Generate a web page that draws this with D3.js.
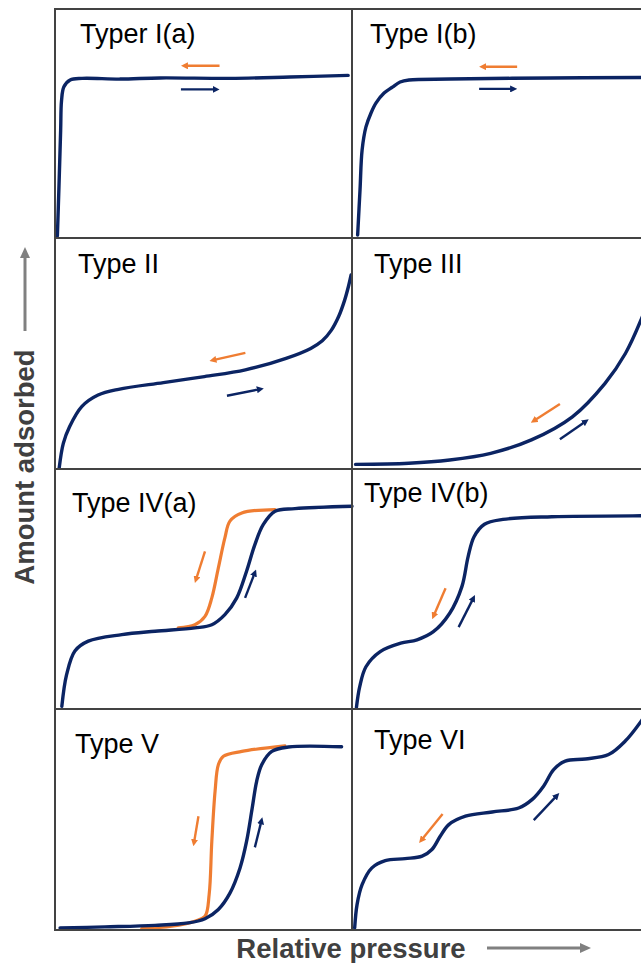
<!DOCTYPE html>
<html>
<head>
<meta charset="utf-8">
<script src="https://cdn.jsdelivr.net/npm/d3@7"></script>
<style>
  body { margin: 0; background: #fff; }
  text { font-family: "Liberation Sans", Arial, sans-serif; }
</style>
</head>
<body>
<svg></svg>
<script>
// isotherm types, reading order (left to right, top to bottom)
var typeNames = ["Typer I(a)", "Type I(b)", "Type II", "Type III",
                 "Type IV(a)", "Type IV(b)", "Type V", "Type VI"];

// adsorption branches: [relative pressure, amount adsorbed], both 0..1 inside a panel
var typeIa = [[0.008,0.009],[0.013,0.21],[0.019,0.47],[0.022,0.60],[0.030,0.66],[0.051,0.69],
  [0.091,0.697],[0.219,0.694],[0.354,0.699],[0.589,0.697],[0.791,0.703],[0.987,0.710]];
var typeIb = [[0.019,0.013],[0.027,0.21],[0.034,0.384],[0.047,0.485],[0.064,0.546],[0.081,0.59],
  [0.108,0.633],[0.136,0.659],[0.162,0.681],[0.192,0.690],[0.33,0.694],[0.667,0.699],[0.973,0.701],[1.0,0.702]];
var typeII = [[0.014,0.003],[0.028,0.111],[0.049,0.183],[0.090,0.270],[0.145,0.320],[0.214,0.345],
  [0.365,0.374],[0.503,0.400],[0.641,0.429],[0.778,0.479],[0.861,0.522],[0.900,0.555],
  [0.930,0.600],[0.955,0.660],[0.975,0.730],[0.988,0.790],[0.997,0.840]];
var typeIII = [[0.012,0.020],[0.191,0.025],[0.329,0.039],[0.467,0.068],[0.604,0.126],[0.742,0.226],
  [0.852,0.371],[0.921,0.501],[0.973,0.645],[1.0,0.74]];
var typeIVa = [[0.023,0.011],[0.039,0.143],[0.067,0.242],[0.112,0.283],[0.225,0.310],[0.337,0.324],
  [0.471,0.338],[0.528,0.351],[0.572,0.393],[0.612,0.463],[0.645,0.574],[0.673,0.685],
  [0.701,0.768],[0.741,0.824],[0.808,0.835],[1.0,0.845]];
var typeIVb = [[0.015,0.007],[0.026,0.093],[0.047,0.176],[0.095,0.239],[0.164,0.274],[0.219,0.288],
  [0.274,0.322],[0.329,0.399],[0.370,0.510],[0.391,0.635],[0.411,0.718],[0.446,0.770],
  [0.508,0.790],[0.673,0.801],[0.973,0.805],[1.0,0.805]];
var typeV = [[0.017,0.009],[0.168,0.014],[0.337,0.021],[0.449,0.032],[0.505,0.051],[0.550,0.093],
  [0.589,0.167],[0.623,0.281],[0.645,0.401],[0.664,0.552],[0.679,0.673],[0.696,0.748],
  [0.730,0.808],[0.786,0.828],[0.965,0.829]];
var typeVI = [[0.009,0.009],[0.017,0.115],[0.034,0.205],[0.067,0.281],[0.112,0.314],[0.179,0.323],
  [0.236,0.334],[0.269,0.364],[0.297,0.424],[0.326,0.477],[0.382,0.515],[0.472,0.534],
  [0.561,0.552],[0.606,0.590],[0.645,0.651],[0.679,0.726],[0.718,0.764],[0.786,0.774],
  [0.864,0.794],[0.920,0.855],[0.973,0.944],[1.0,1.0]];

// desorption branches (hysteresis loops)
var typeIVaDes = [[0.415,0.338],[0.471,0.351],[0.505,0.386],[0.528,0.463],[0.550,0.588],
  [0.572,0.713],[0.589,0.783],[0.629,0.817],[0.741,0.831]];
var typeVDes = [[0.292,0.006],[0.393,0.017],[0.471,0.040],[0.505,0.062],[0.519,0.160],
  [0.528,0.401],[0.539,0.628],[0.550,0.748],[0.567,0.786],[0.629,0.808],[0.774,0.833]];

var adsorption = [typeIa, typeIb, typeII, typeIII, typeIVa, typeIVb, typeV, typeVI];
var desorption = [null, null, null, null, typeIVaDes, null, typeVDes, null];

// direction arrows [p1, a1, p2, a2]
var adsArrows = [[0.424,0.649,0.554,0.649],[0.428,0.651,0.556,0.651],[0.579,0.317,0.703,0.349],
  [0.700,0.129,0.797,0.215],[0.640,0.463,0.677,0.581],[0.359,0.341,0.414,0.475],
  [0.673,0.374,0.698,0.510],[0.612,0.497,0.698,0.620]];
var desArrows = [[0.554,0.752,0.424,0.752],[0.556,0.748,0.428,0.748],[0.641,0.503,0.520,0.468],
  [0.700,0.281,0.602,0.200],[0.505,0.657,0.471,0.525],[0.315,0.503,0.270,0.374],
  [0.483,0.515,0.466,0.379],[0.305,0.525,0.226,0.394]];

// layout
var width = 641, height = 963;
var colX = [55, 352], panelW = 297;
var rowY = [[9, 238], [238, 469], [469, 709], [709, 930]];
var titleOffset = [[25, 34], [18, 34], [23, 35], [22, 35], [17, 43], [12, 33], [20, 44], [22, 40]];
var navy = "#0b2463", orange = "#ef7d32", gridColor = "#434343", axisGray = "#808080";

var svg = d3.select("svg").attr("width", width).attr("height", height);

var defs = svg.append("defs");
function addMarker(id, color, len, wid) {
    defs.append("marker")
        .attr("id", id)
        .attr("markerUnits", "userSpaceOnUse")
        .attr("markerWidth", len).attr("markerHeight", wid)
        .attr("refX", len).attr("refY", wid / 2)
        .attr("orient", "auto")
        .append("path")
        .attr("d", "M0,0L" + len + "," + (wid / 2) + "L0," + wid + "Z")
        .attr("fill", color);
}
addMarker("headNavy", navy, 7, 7);
addMarker("headOrange", orange, 7, 7);
addMarker("headGray", axisGray, 11, 10);

var line = d3.line().curve(d3.curveCatmullRom.alpha(0.5));

// draw one arrow, line stops short so the head keeps a sharp tip
function drawArrow(g, x1, y1, x2, y2, color, marker, w, headLen) {
    var dx = x2 - x1, dy = y2 - y1, len = Math.sqrt(dx * dx + dy * dy);
    var ex = x2 - dx / len * (headLen - 1), ey = y2 - dy / len * (headLen - 1);
    g.append("line")
        .attr("x1", x1).attr("y1", y1).attr("x2", ex).attr("y2", ey)
        .attr("stroke", color).attr("stroke-width", w);
    g.append("path")
        .attr("d", "M" + ex + "," + ey + "L" + x2 + "," + y2)
        .attr("stroke", "none").attr("fill", "none")
        .attr("marker-end", "url(#" + marker + ")");
}

var panels = svg.append("g");

typeNames.forEach(function(name, i) {
    var col = i % 2, row = Math.floor(i / 2);
    var x0 = colX[col], y0 = rowY[row][0], y1 = rowY[row][1];

    var x = d3.scaleLinear().domain([0, 1]).range([x0, x0 + panelW]);
    var y = d3.scaleLinear().domain([0, 1]).range([y1, y0]);
    line.x(function(d) { return x(d[0]); }).y(function(d) { return y(d[1]); });

    var g = panels.append("g").attr("class", "panel");

    if (desorption[i]) {
        g.append("path").datum(desorption[i])
            .attr("d", line)
            .attr("fill", "none").attr("stroke", orange)
            .attr("stroke-width", 3.2).attr("stroke-linecap", "round");
    }
    g.append("path").datum(adsorption[i])
        .attr("d", line)
        .attr("fill", "none").attr("stroke", navy)
        .attr("stroke-width", 3.4).attr("stroke-linecap", "round");

    var a = adsArrows[i], d = desArrows[i];
    drawArrow(g, x(d[0]), y(d[1]), x(d[2]), y(d[3]), orange, "headOrange", 2.4, 7);
    drawArrow(g, x(a[0]), y(a[1]), x(a[2]), y(a[3]), navy, "headNavy", 2.4, 7);

    g.append("text")
        .attr("x", x0 + titleOffset[i][0]).attr("y", y0 + titleOffset[i][1])
        .attr("font-size", 27).attr("fill", "#000")
        .text(name);
});

// panel grid
var grid = svg.append("g").attr("fill", "none").attr("stroke", gridColor).attr("stroke-width", 2);
rowY.forEach(function(r) {
    colX.forEach(function(cx) {
        grid.append("rect").attr("x", cx).attr("y", r[0])
            .attr("width", panelW).attr("height", r[1] - r[0]);
    });
});

// axis titles
svg.append("text")
    .attr("transform", "translate(34,467) rotate(-90)")
    .attr("text-anchor", "middle")
    .attr("font-size", 27.5).attr("font-weight", "bold").attr("fill", "#404040")
    .text("Amount adsorbed");
drawArrow(svg, 25, 331, 25, 247, axisGray, "headGray", 3, 11);

svg.append("text")
    .attr("x", 351).attr("y", 958)
    .attr("text-anchor", "middle")
    .attr("font-size", 27.5).attr("font-weight", "bold").attr("fill", "#404040")
    .text("Relative pressure");
drawArrow(svg, 487, 948, 591, 948, axisGray, "headGray", 3, 11);
</script>
</body>
</html>
